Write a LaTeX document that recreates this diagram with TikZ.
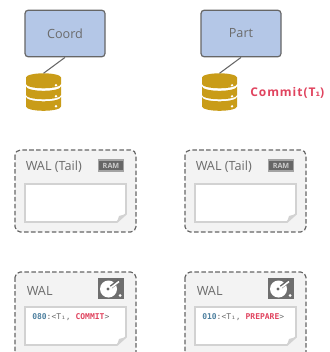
\documentclass[tikz,border=0pt]{standalone}
\usepackage{fontspec}
\setmainfont{Open Sans}
\setmonofont{DejaVu Sans Mono}
\newfontfamily\commitfont[LetterSpace=8]{Open Sans}
\newfontfamily\subfont{DejaVu Sans}
\definecolor{boxblue}{HTML}{B4C7E7}
\definecolor{boxline}{HTML}{666666}
\definecolor{dbgold}{HTML}{C99C18}
\definecolor{walgray}{HTML}{F3F3F3}
\definecolor{pageline}{HTML}{D2D2D2}
\definecolor{txtgray}{HTML}{6B6B6B}
\definecolor{commitred}{HTML}{E0435E}
\definecolor{lsnblue}{HTML}{4F81A0}
\tikzset{
  procbox/.style={draw=boxline, fill=boxblue, line width=.9pt, rounded corners=2.5pt,
    minimum width=60pt, minimum height=35pt, text=txtgray, font=\fontsize{9.5}{11}\selectfont},
  walbox/.style={draw=boxline, fill=walgray, line width=.9pt, dash pattern=on 3.4pt off 1.8pt, rounded corners=4pt},
  waltext/.style={text=txtgray, font=\fontsize{9.5}{11}\selectfont, inner sep=0pt, anchor=west},
  rectext/.style={text=txtgray, font=\ttfamily\fontsize{6}{7}\selectfont, inner sep=0pt, anchor=west},
  icontext/.style={text=white!80!black, font=\bfseries\fontsize{5.4}{6}\selectfont, inner sep=0pt}
}
% database icon, top centre at #1
\newcommand{\dbicon}[2]{
  \begin{scope}[shift={#1}]
    \coordinate (#2) at (0,0);
    \fill[dbgold] (-17.5,4.2) arc[start angle=180, end angle=360, x radius=17.5, y radius=4.2]
      -- (17.5,10.7) arc[start angle=0, end angle=180, x radius=17.5, y radius=4.3] -- cycle;
    \fill[dbgold] (-17.5,13.2) arc[start angle=180, end angle=0, x radius=17.5, y radius=4.3]
      -- (17.5,21.7) arc[start angle=0, end angle=180, x radius=17.5, y radius=4.3] -- cycle;
    \fill[dbgold] (-17.5,23.7) arc[start angle=180, end angle=0, x radius=17.5, y radius=4.3]
      -- (17.5,33.2) arc[start angle=0, end angle=180, x radius=17.5, y radius=4.3] -- cycle;
    \foreach \dy in {12,23,33} {\fill[white] (12.5,\dy) circle (1.3);}
  \end{scope}
}
% note page, top left at #1
\newcommand{\walpage}[1]{
  \begin{scope}[shift={#1}]
    \draw[pageline, fill=white, line width=1.3pt] (0,0) -- (101,0) -- (101,30) -- (92,38) -- (0,38) -- cycle;
    \fill[pageline] (101,30) -- (92,38) -- (94,32) -- cycle;
  \end{scope}
}
\newcommand{\ramicon}[1]{
  \begin{scope}[shift={#1}]
    \fill[boxline!60] (0,0) rectangle (26,13);
    \fill[boxline] (1,2) rectangle (25,11);
    \node[icontext] at (13,6.5) {RAM};
  \end{scope}
}
\newcommand{\diskicon}[1]{
  \begin{scope}[shift={#1}]
    \fill[boxline!95] (0,0) rectangle (25.5,20.5);
    \fill[white] (10.5,11) circle (8.5);
    \fill[boxline] (10,11) circle (1.7);
    \draw[boxline, line width=2.6pt] (13,9) -- (21,2.5);
    \draw[white, line width=1.2pt] (12.5,10) -- (21,3.5);
    \fill[white] (22,17.5) circle (1.5);
  \end{scope}
}
\begin{document}
\begin{tikzpicture}[x=.75pt, y=-.75pt]
  \useasboundingbox (0,0) rectangle (329,352);
  % top row
  \node[procbox] (coord) at (65,33.5) {Coord};
  \node[procbox] (part) at (241,33.5) {Part};
  \dbicon{(43.5,73.3)}{coorddb}
  \dbicon{(219.5,73.3)}{partdb}
  \draw[boxline, line width=.8pt] (coord.south) -- (coorddb);
  \draw[boxline, line width=.8pt] (part.south) -- (partdb);
  \node[text=commitred, font=\commitfont\fontsize{9}{10}\selectfont, inner sep=0pt, anchor=west] (commit) at (250,93) {\bfseries Commit(T{\subfont\fontsize{8}{8}\selectfont ₁})};

  % memory tail
  \foreach \bx/\nm in {15/tailc, 185/tailp} {
    \begin{scope}[shift={(\bx,0)}]
      \draw[walbox] (0,150) rectangle (121,232);
      \node[waltext] (\nm) at (10.5,166.5) {WAL (Tail)};
      \ramicon{(83,159.5)}
      \walpage{(10,184)}
    \end{scope}
  }

  % disk log
  \foreach \bx/\nm in {15/logc, 185/logp} {
    \begin{scope}[shift={(\bx,0)}]
      \draw[walbox] (0,272) rectangle (121,362);
      \node[waltext] (\nm) at (11.5,290.5) {WAL};
      \diskicon{(83,278)}
      \walpage{(10,307)}
    \end{scope}
  }
  \node[rectext] (reccoord) at (32,317) {\textcolor{lsnblue}{\bfseries 080}:<T₁, \textcolor{commitred}{\bfseries COMMIT}>};
  \node[rectext] (recpart) at (202,317) {\textcolor{lsnblue}{\bfseries 010}:<T₁, \textcolor{commitred}{\bfseries PREPARE}>};
\end{tikzpicture}
\end{document}
